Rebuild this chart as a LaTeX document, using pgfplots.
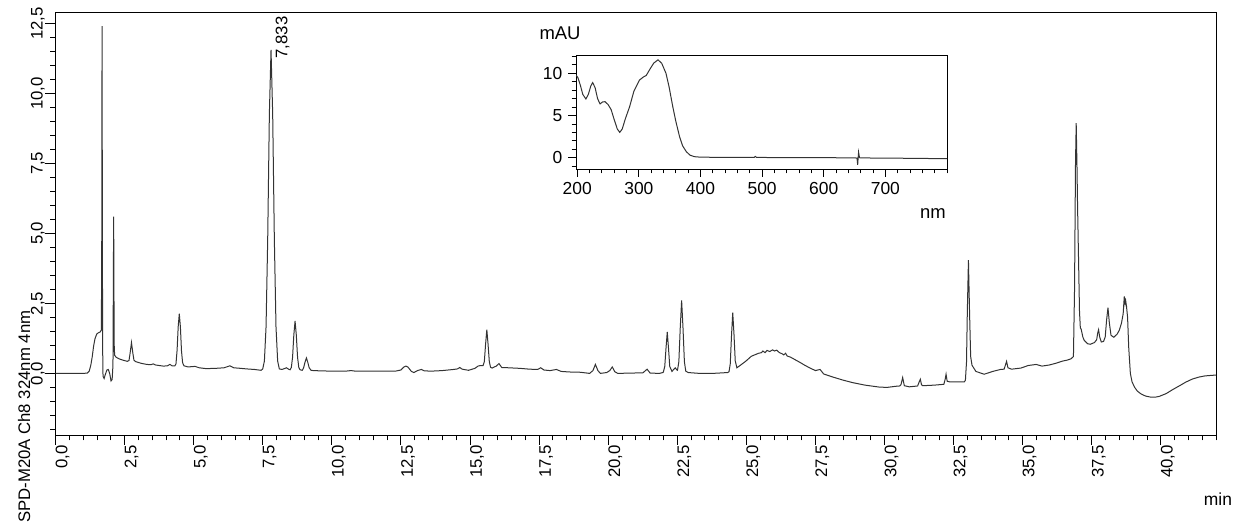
\documentclass[border=0pt]{standalone}
\usepackage{fontspec}
\setmainfont{Liberation Sans}
\usepackage{pgfplots}
\pgfplotsset{compat=1.18}
\begin{document}
\fontsize{16.8}{19}\selectfont
\begin{tikzpicture}[x=1bp,y=1bp]
\useasboundingbox (0,0) rectangle (1246,526);
\begin{axis}[
  at={(55.5bp,91bp)}, anchor=south west, scale only axis,
  width=1160.5bp, height=422.3bp,
  xmin=0, xmax=42, ymin=-2.2, ymax=12.88,
  xtick={0,2.5,...,40}, minor xtick={0,0.5,...,42},
  ytick={0,2.5,...,12.5}, minor ytick={-2,-1.5,...,12.5},
  tick align=outside, major tick length=10bp, minor tick length=5.5bp,
  xtick pos=bottom, ytick pos=left,
  axis line style={black, line width=0.8bp},
  tick style={black, line width=0.8bp},
  /pgf/number format/.cd, use comma, fixed, fixed zerofill, precision=1, assume math mode=true,
  /pgfplots/.cd,
  xticklabel style={rotate=90, anchor=north east, inner sep=0pt, font=\fontsize{16.8}{19}\selectfont},
  yticklabel style={rotate=90, anchor=base, inner sep=0pt, yshift=3bp, font=\fontsize{16.8}{19}\selectfont},
]
\addplot[black!80, line width=1bp] coordinates {
(0,0.0) (0.5,0.0) (1.0,0.0) (1.15,0.01) (1.22,0.08) (1.28,0.3) (1.33,0.6) (1.38,0.98) (1.43,1.24) (1.49,1.40) (1.55,1.45) (1.62,1.48) (1.66,1.55) (1.675,5) (1.685,12.4) (1.695,6) (1.705,1.0) (1.72,-0.1) (1.76,-0.18) (1.80,-0.05) (1.86,0.12) (1.91,0.14) (1.96,0.0) (2.01,-0.27) (2.05,-0.22) (2.08,0.3) (2.095,3.5) (2.105,5.6) (2.115,3.0) (2.125,1.0) (2.14,0.65) (2.19,0.58) (2.3,0.52) (2.45,0.47) (2.6,0.43) (2.66,0.46) (2.70,0.72) (2.75,1.10) (2.80,0.72) (2.84,0.47) (2.9,0.42) (3.1,0.36) (3.3,0.32) (3.45,0.31) (3.54,0.34) (3.62,0.30) (3.9,0.26) (4.05,0.27) (4.14,0.32) (4.22,0.27) (4.32,0.27) (4.36,0.34) (4.40,0.82) (4.44,1.66) (4.48,2.13) (4.52,1.66) (4.56,0.80) (4.60,0.38) (4.65,0.27) (4.8,0.23) (5.05,0.25) (5.2,0.2) (5.45,0.17) (5.8,0.18) (6.1,0.2) (6.31,0.27) (6.45,0.2) (6.7,0.18) (6.91,0.16) (7.2,0.14) (7.44,0.11)
(7.50,0.16) (7.56,0.44) (7.62,1.66) (7.68,4.8) (7.74,9.26) (7.80,11.55) (7.86,9.26) (7.92,4.8) (7.98,1.66) (8.04,0.44) (8.10,0.16) (8.2,0.14) (8.36,0.2) (8.45,0.14)
(8.49,0.13) (8.535,0.21) (8.58,0.58) (8.625,1.37) (8.67,1.87) (8.715,1.37) (8.76,0.58) (8.805,0.21) (8.85,0.13)
(8.93,0.11) (8.98,0.2) (9.03,0.4) (9.08,0.55) (9.13,0.4) (9.18,0.2) (9.25,0.11) (9.33,0.1) (9.6,0.09) (10.0,0.08) (10.5,0.08) (10.7,0.1) (10.85,0.08) (11.5,0.08) (12.3,0.08) (12.5,0.12) (12.6,0.22) (12.68,0.26) (12.76,0.22) (12.88,0.07) (12.97,0.03) (13.1,0.1) (13.24,0.14) (13.35,0.09) (13.6,0.08) (14.0,0.1) (14.4,0.14) (14.55,0.16) (14.63,0.21) (14.72,0.15) (14.95,0.11) (15.18,0.18) (15.29,0.26) (15.38,0.28)
(15.475,0.28) (15.52,0.42) (15.565,1.04) (15.61,1.56) (15.655,1.04) (15.70,0.42) (15.745,0.22) (15.8,0.19) (15.95,0.26) (16.05,0.35) (16.15,0.21) (16.4,0.2) (16.8,0.18) (17.16,0.15) (17.45,0.14) (17.56,0.2) (17.68,0.12) (17.9,0.1) (18.13,0.14) (18.3,0.07) (18.6,0.05) (19.0,0.04) (19.33,0.0) (19.45,0.1) (19.54,0.32) (19.63,0.1) (19.72,0.0) (19.95,0.03) (20.06,0.1) (20.15,0.23) (20.24,0.06) (20.35,0.0) (20.8,0.01) (21.26,0.02) (21.41,0.15) (21.52,0.01) (21.86,0.0) (21.98,0.03)
(22.0,0.05) (22.05,0.25) (22.095,0.9) (22.14,1.48) (22.185,0.9) (22.23,0.25) (22.31,0.07) (22.37,0.14) (22.43,0.2) (22.49,0.12)
(22.51,0.11) (22.56,0.42) (22.61,1.62) (22.66,2.61) (22.71,1.62) (22.76,0.42) (22.81,0.08) (22.9,0.03) (23.3,0.0) (23.8,0.0) (24.33,0.03)
(24.375,0.06) (24.42,0.34) (24.465,1.34) (24.51,2.17) (24.555,1.4) (24.60,0.45) (24.66,0.2) (24.8,0.3) (25.0,0.45) (25.18,0.61) (25.35,0.68) (25.45,0.72) (25.55,0.74) (25.6,0.8) (25.68,0.74) (25.75,0.82) (25.85,0.78) (25.95,0.84) (26.02,0.80) (26.1,0.83) (26.2,0.74) (26.3,0.70) (26.36,0.66) (26.42,0.72) (26.48,0.62) (26.6,0.58) (26.8,0.47) (26.93,0.40) (27.1,0.30) (27.29,0.2) (27.5,0.1) (27.67,0.14) (27.8,-0.02) (28.13,-0.13) (28.5,-0.24) (28.85,-0.33) (29.3,-0.42) (29.82,-0.49) (30.1,-0.5) (30.42,-0.46) (30.55,-0.45)
(30.60,-0.4) (30.66,-0.15) (30.72,-0.44) (30.9,-0.48) (31.2,-0.45) (31.26,-0.3) (31.3,-0.21) (31.34,-0.4) (31.38,-0.44) (31.8,-0.42) (32.15,-0.39) (32.2,-0.2) (32.23,-0.03) (32.27,-0.28) (32.35,-0.3) (32.6,-0.3) (32.89,-0.3)
(32.93,-0.25) (32.97,0.4) (33.0,2.2) (33.04,4.04) (33.08,2.2) (33.12,0.6) (33.17,0.29) (33.31,0.07) (33.61,-0.03) (33.92,0.07) (34.2,0.14) (34.33,0.15) (34.38,0.3) (34.42,0.43) (34.47,0.2) (34.6,0.15) (34.94,0.19) (35.2,0.28) (35.49,0.32) (35.7,0.26) (35.97,0.3) (36.2,0.36) (36.45,0.44) (36.6,0.47) (36.75,0.52) (36.84,0.6)
(36.88,3.0) (36.915,7.5) (36.94,8.94) (36.97,7.3) (36.99,5.94) (37.03,3.8) (37.06,2.2) (37.09,1.62) (37.12,1.58) (37.18,1.3) (37.23,1.18) (37.35,1.06) (37.45,1.04) (37.6,1.1) (37.68,1.2) (37.72,1.45) (37.75,1.56) (37.79,1.3) (37.85,1.12) (37.93,1.14) (37.99,1.3) (38.04,1.9) (38.09,2.35) (38.14,1.8) (38.2,1.36) (38.3,1.29) (38.42,1.40) (38.5,1.54) (38.58,1.8) (38.64,2.13) (38.68,2.75) (38.71,2.5) (38.73,2.6) (38.76,2.4) (38.80,2.0) (38.84,0.94) (38.9,0.0) (38.96,-0.3) (39.05,-0.49) (39.15,-0.63) (39.28,-0.73) (39.45,-0.81) (39.65,-0.85) (39.8,-0.85) (39.95,-0.82) (40.2,-0.72) (40.43,-0.58) (40.7,-0.43) (40.91,-0.31) (41.15,-0.2) (41.39,-0.13) (41.6,-0.09) (41.85,-0.07) (42.0,-0.06)
};
\node[rotate=90, anchor=base west, inner sep=0pt] at (axis cs:8.39,11.24) {7,833};
\end{axis}
\begin{axis}[
  at={(576bp,357bp)}, anchor=south west, scale only axis,
  width=371bp, height=113.3bp,
  xmin=198, xmax=800, ymin=-1.34, ymax=12.09,
  xtick={200,300,...,700}, minor xtick={200,220,...,800},
  ytick={0,5,10}, minor ytick={-1,0,...,12},
  tick align=outside, major tick length=8bp, minor tick length=4.5bp,
  xtick pos=bottom, ytick pos=left,
  axis line style={black, line width=0.8bp},
  tick style={black, line width=0.8bp},
  /pgf/number format/assume math mode=true,
  xticklabel style={font=\fontsize{17.5}{20}\selectfont},
  yticklabel style={font=\fontsize{17.5}{20}\selectfont},
]
\addplot[black!80, line width=1bp] coordinates {
(198,9.8) (201,9.5) (205,8.6) (209,7.5) (214,6.96) (218,7.5) (222,8.5) (225,8.9) (229,8.3) (233,7.0) (237,6.37) (241,6.6) (245,6.64) (250,6.3) (255,5.7) (260,4.5) (265,3.4) (269,3.0) (273,3.4) (278,4.6) (285,6.05) (292,7.9) (301,9.2) (307,9.55) (312,9.75) (318,10.5) (324,11.2) (331,11.6) (337,11.2) (344,10.0) (349,8.4) (355,6.05) (360,4.3) (366,2.5) (371,1.4) (377,0.71) (383,0.3) (390,0.12) (400,0.06) (450,0.03) (487,0.03) (489,0.15) (491,0.03) (550,0.0) (600,0.0) (650,-0.02) (654,-0.05) (655,-0.85) (656.5,0.65) (658,0.0) (660,-0.03) (700,-0.05) (750,-0.08) (797,-0.12) (800,-0.12)
};
\end{axis}
\node[font=\fontsize{18.5}{21}\selectfont] at (560,493) {mAU};
\node[font=\fontsize{18.5}{21}\selectfont] at (933,312) {nm};
\node[font=\fontsize{17.5}{20}\selectfont] at (1218,27) {min};
\node[rotate=90, anchor=base west, inner sep=0pt] at (30,3) {SPD-M20A Ch8 324nm 4nm};
\end{tikzpicture}
\end{document}
